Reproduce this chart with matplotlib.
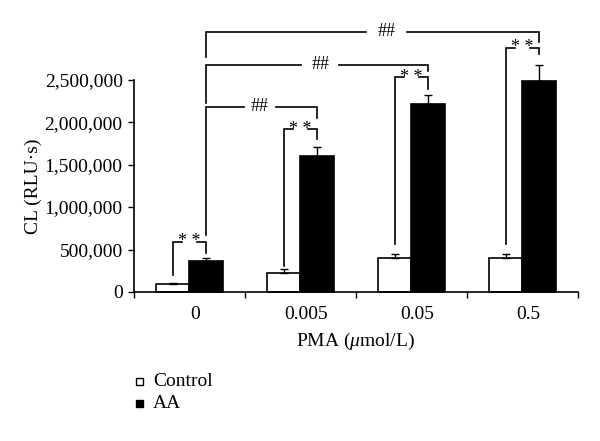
import matplotlib
matplotlib.use("Agg")
import matplotlib.pyplot as plt
import numpy as np
from matplotlib.patches import Rectangle

plt.rcParams['font.family'] = ['Liberation Serif', 'DejaVu Serif']
plt.rcParams['mathtext.fontset'] = 'custom'
plt.rcParams['mathtext.rm'] = 'Liberation Serif'
plt.rcParams['mathtext.it'] = 'Liberation Serif:italic'

categories = ['0', '0.005', '0.05', '0.5']
control = [90000, 228000, 405000, 405000]
control_err = [10000, 40000, 45000, 45000]
aa = [370000, 1600000, 2213000, 2484000]
aa_err = [30000, 110000, 110000, 190000]
yticks = [0, 500000, 1000000, 1500000, 2000000, 2500000]
ytick_labels = ['0', '500,000', '1,000,000', '1,500,000', '2,000,000', '2,500,000']

fig = plt.figure(figsize=(6, 4.41), dpi=100)
ax = fig.add_axes([0.223, 0.338, 0.74, 0.481])

x = np.arange(len(categories))
w = 0.3
xc = x - w / 2
xa = x + w / 2
ax.bar(xc, control, w, color='white', edgecolor='black', linewidth=1.2, zorder=2, clip_on=False)
ax.bar(xa, aa, w, color='black', edgecolor='black', linewidth=1.2, zorder=2, clip_on=False)
for vals, errs, xs in [(control, control_err, xc), (aa, aa_err, xa)]:
    eb = ax.errorbar(xs, vals, yerr=[np.zeros(4), errs], fmt='none', ecolor='black',
                     elinewidth=1, capsize=3, capthick=1, zorder=3)
    for a in eb.get_children():
        a.set_clip_on(False)

ax.set_xlim(-0.5, 3.5)
ax.set_ylim(0, 2500000)
ax.set_yticks(yticks)
ax.set_yticklabels(ytick_labels, fontsize=14)
ax.set_xticks([-0.5, 0.5, 1.5, 2.5, 3.5])
ax.set_xticklabels([])
ax.set_xticks(x + 0.05, minor=True)
ax.set_xticklabels(categories, minor=True, fontsize=14)
ax.tick_params(axis='x', which='minor', length=0, pad=10)
ax.tick_params(axis='x', which='major', length=4, direction='out', width=1)
ax.tick_params(axis='y', length=4, direction='out', width=1, pad=4)
for s in ['top', 'right']:
    ax.spines[s].set_visible(False)
for s in ['left', 'bottom']:
    ax.spines[s].set_linewidth(1.2)

ax.set_xlabel('PMA ($\\mathit{\\mu}$mol/L)', fontsize=14, labelpad=6)
ax.set_ylabel('CL (RLU·s)', fontsize=14, labelpad=2)

lw = 1.2
def bracket(x1, yb1, x2, yb2, ytop, text, gap, tx=None):
    if tx is None:
        tx = (x1 + x2) / 2
    ax.plot([x1, x1, tx - gap], [yb1, ytop, ytop], color='black', lw=lw, clip_on=False,
            solid_joinstyle='miter')
    ax.plot([tx + gap, x2, x2], [ytop, ytop, yb2], color='black', lw=lw, clip_on=False,
            solid_joinstyle='miter')
    ax.text(tx, ytop, text, ha='center', va='center', fontsize=13, clip_on=False)

# ** brackets (control vs AA)
bracket(xc[0], 205000, xa[0], 460000, 594000, '* *', 0.07)
bracket(xc[1], 300000, xa[1], 1800000, 1920000, '* *', 0.07)
bracket(xc[2], 560000, xa[2], 2390000, 2530000, '* *', 0.07)
bracket(xc[3], 560000, xa[3], 2800000, 2880000, '* *', 0.07)
# ## brackets (AA 0 vs AA others)
bracket(xa[0], 670000, xa[1], 2050000, 2180000, '##', 0.145, tx=0.635)
bracket(xa[0], 2230000, xa[2], 2600000, 2680000, '##', 0.17, tx=1.18)
bracket(xa[0], 2770000, xa[3], 2950000, 3066000, '##', 0.185, tx=1.775)

# legend
fig.patches.append(Rectangle((0.227, 0.127), 0.012, 0.016, transform=fig.transFigure,
                             facecolor='white', edgecolor='black', linewidth=1))
fig.patches.append(Rectangle((0.227, 0.077), 0.012, 0.016, transform=fig.transFigure,
                             facecolor='black', edgecolor='black', linewidth=1))
fig.text(0.255, 0.134, 'Control', fontsize=14, va='center', ha='left')
fig.text(0.255, 0.084, 'AA', fontsize=14, va='center', ha='left')

fig.savefig('out.png', dpi=100)
